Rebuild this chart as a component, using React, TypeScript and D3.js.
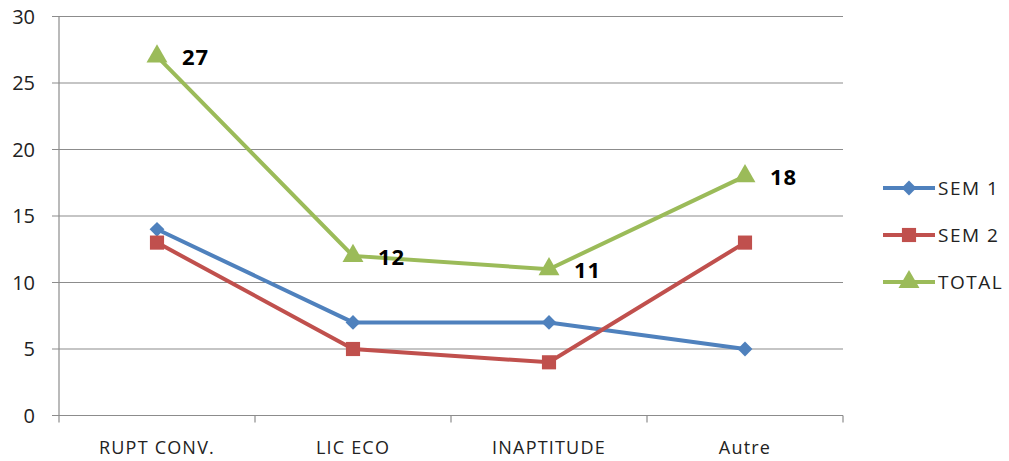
import React, { useEffect, useRef } from 'react';
import * as d3 from 'd3';

const categories = ['RUPT CONV.', 'LIC ECO', 'INAPTITUDE', 'Autre'];
const sem1 = [14, 7, 7, 5];
const sem2 = [13, 5, 4, 13];
const total = [27, 12, 11, 18];
const yTicks = [0, 5, 10, 15, 20, 25, 30];

const diamond = (d3 as any).symbolDiamond2 || d3.symbolDiamond;

const series = [
  { name: 'SEM 1', values: sem1, color: '#4F81BD', symbol: diamond, size: 140, labels: false },
  { name: 'SEM 2', values: sem2, color: '#C0504D', symbol: d3.symbolSquare, size: 200, labels: false },
  { name: 'TOTAL', values: total, color: '#9BBB59', symbol: d3.symbolTriangle, size: 190, labels: true },
];

const font = 'Open Sans, sans-serif';

const App = () => {
  const ref = useRef<SVGSVGElement>(null);

  useEffect(() => {
    const width = 1009;
    const height = 461;
    const margin = { top: 16.5, left: 59, right: 843, bottom: 415.5 };

    const svg = d3.select(ref.current);
    svg.selectAll('*').remove();
    svg.attr('width', width).attr('height', height);

    svg.append('rect').attr('width', width).attr('height', height).attr('fill', '#fff');

    const x = d3.scaleBand().domain(categories).range([margin.left, margin.right]);
    const y = d3.scaleLinear().domain([0, 30]).range([margin.bottom, margin.top]);
    const cx = (c: string) => (x(c) as number) + x.bandwidth() / 2;

    // gridlines + y labels
    svg.append('g')
      .selectAll('line')
      .data(yTicks)
      .enter()
      .append('line')
      .attr('x1', margin.left - 7)
      .attr('x2', margin.right)
      .attr('y1', d => y(d))
      .attr('y2', d => y(d))
      .attr('stroke', '#8c8c8c')
      .attr('stroke-width', 1.2);

    svg.append('g')
      .selectAll('text')
      .data(yTicks)
      .enter()
      .append('text')
      .attr('x', 35)
      .attr('y', d => y(d))
      .attr('dy', '0.35em')
      .attr('text-anchor', 'end')
      .attr('font-family', font)
      .attr('font-size', 20)
      .attr('fill', '#222')
      .text(d => d);

    // axes
    svg.append('line')
      .attr('x1', margin.left).attr('x2', margin.left)
      .attr('y1', margin.top).attr('y2', margin.bottom + 7)
      .attr('stroke', '#8c8c8c').attr('stroke-width', 1.2);

    const xEdges = categories.map(c => x(c) as number).concat([margin.right]);
    svg.append('g')
      .selectAll('line')
      .data(xEdges.slice(1))
      .enter()
      .append('line')
      .attr('x1', d => d).attr('x2', d => d)
      .attr('y1', margin.bottom).attr('y2', margin.bottom + 7)
      .attr('stroke', '#8c8c8c').attr('stroke-width', 1.2);

    svg.append('g')
      .selectAll('text')
      .data(categories)
      .enter()
      .append('text')
      .attr('x', d => cx(d))
      .attr('y', 454)
      .attr('text-anchor', 'middle')
      .attr('font-family', font)
      .attr('font-size', 18)
      .attr('letter-spacing', 1.2)
      .attr('fill', '#222')
      .text(d => d);

    const line = d3.line<number>()
      .x((_, i) => cx(categories[i]))
      .y(d => y(d));

    series.forEach(s => {
      svg.append('path')
        .datum(s.values)
        .attr('d', line)
        .attr('fill', 'none')
        .attr('stroke', s.color)
        .attr('stroke-width', 4);

      svg.append('g')
        .selectAll('path')
        .data(s.values)
        .enter()
        .append('path')
        .attr('d', d3.symbol().type(s.symbol).size(s.size)())
        .attr('transform', (d, i) => `translate(${cx(categories[i])},${y(d)})`)
        .attr('fill', s.color);

      if (s.labels) {
        svg.append('g')
          .selectAll('text')
          .data(s.values)
          .enter()
          .append('text')
          .attr('x', (_, i) => cx(categories[i]) + 25)
          .attr('y', d => y(d) + 1)
          .attr('dy', '0.35em')
          .attr('font-family', font)
          .attr('font-weight', 'bold')
          .attr('font-size', 22)
          .attr('letter-spacing', 1)
          .attr('fill', '#000')
          .text(d => d);
      }
    });

    // legend
    const legend = svg.append('g');
    series.forEach((s, i) => {
      const ly = 188 + i * 47;
      legend.append('line')
        .attr('x1', 883).attr('x2', 935)
        .attr('y1', ly).attr('y2', ly)
        .attr('stroke', s.color).attr('stroke-width', 4);
      legend.append('path')
        .attr('d', d3.symbol().type(s.symbol).size(s.size)())
        .attr('transform', `translate(909,${ly})`)
        .attr('fill', s.color);
      legend.append('text')
        .attr('x', 938)
        .attr('y', ly)
        .attr('dy', '0.35em')
        .attr('font-family', font)
        .attr('font-size', 19)
        .attr('letter-spacing', 1.5)
        .attr('fill', '#222')
        .text(s.name);
    });
  }, []);

  return <svg ref={ref} style={{ position: 'absolute', left: 0, top: 0 }}></svg>;
};

export default App;
